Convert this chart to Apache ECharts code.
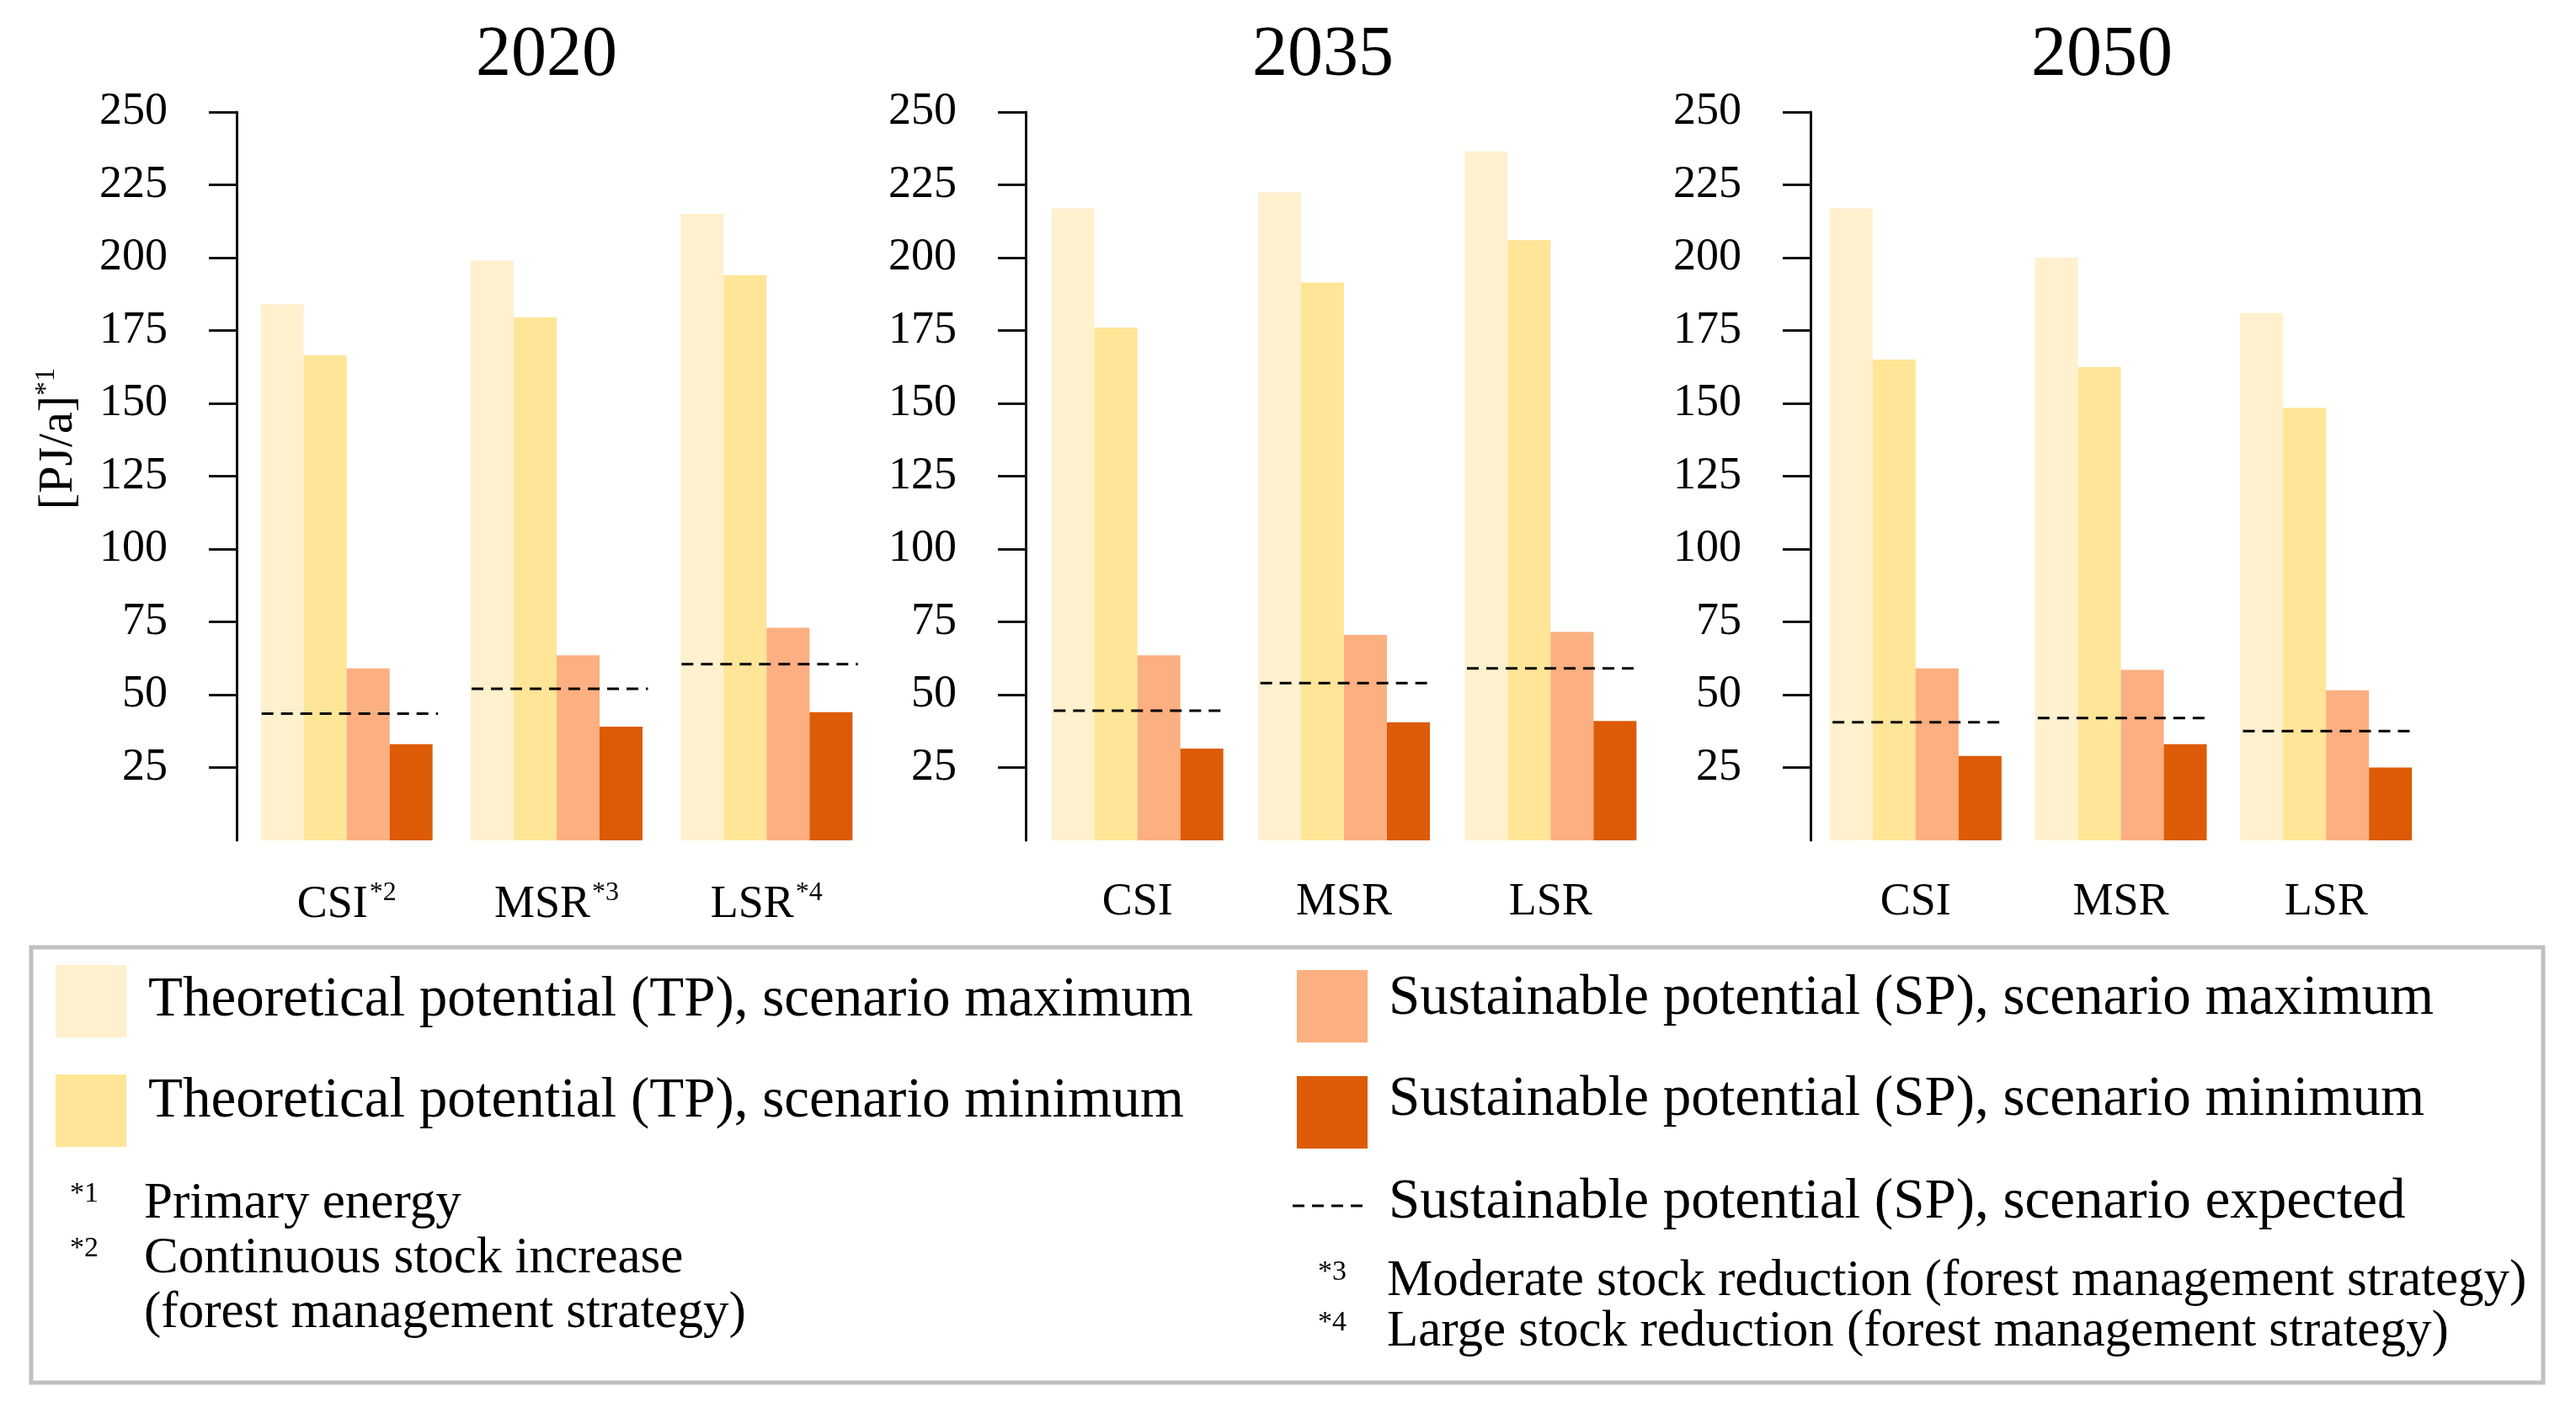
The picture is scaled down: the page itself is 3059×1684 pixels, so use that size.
<!DOCTYPE html>
<html><head><meta charset="utf-8">
<script src="https://cdn.jsdelivr.net/npm/echarts@6/dist/echarts.min.js"></script>
<style>html,body{margin:0;padding:0;background:#fff}#c{width:3059px;height:1684px}</style>
</head><body><div id="c"></div>
<script>
// ---------- data ----------
const years = ['2020', '2035', '2050'];
const categories = ['CSI', 'MSR', 'LSR'];
const marks2020 = ['*2', '*3', '*4'];
const seriesNames = [
  'Theoretical potential (TP), scenario maximum',
  'Theoretical potential (TP), scenario minimum',
  'Sustainable potential (SP), scenario maximum',
  'Sustainable potential (SP), scenario minimum'
];
const expectedName = 'Sustainable potential (SP), scenario expected';
// per year: [CSI, MSR, LSR]
const tpMax = [[184, 199, 215], [217, 222.5, 236.5], [217, 200, 181]];
const tpMin = [[166.5, 179.5, 194], [176, 191.5, 206], [165, 162.5, 148.5]];
const spMax = [[59, 63.5, 73], [63.5, 70.5, 71.5], [59, 58.5, 51.5]];
const spMin = [[33, 39, 44], [31.5, 40.5, 41], [29, 33, 25]];
const spExp = [[43.5, 52, 60.5], [44.5, 54, 59], [40.5, 42, 37.5]];
const yTicks = [25, 50, 75, 100, 125, 150, 175, 200, 225, 250];
const footnotesLeft = [['*1', 'Primary energy'], ['*2', 'Continuous stock increase'], ['', '(forest management strategy)']];
const footnotesRight = [['*3', 'Moderate stock reduction (forest management strategy)'], ['*4', 'Large stock reduction (forest management strategy)']];

// ---------- style ----------
const FONT = 'Liberation Serif';
const colors = ['#FFF0CE', '#FFE597', '#FCAF80', '#DD5B06'];
const gridLeft = [287, 1228, 2153];
const gridWidth = [748, 736, 731];
const axisOffset = [6, 10, 3];
const titleX = [649, 1571, 2496];

const chart = echarts.init(document.getElementById('c'), null, {renderer: 'canvas'});

const grids = [], xAxes = [], yAxes = [], series = [];
const valuesBySeries = [tpMax, tpMin, spMax, spMin];

for (let i = 0; i < 3; i++) {
  grids.push({left: gridLeft[i], width: gridWidth[i], top: 133, height: 865, containLabel: false});
  xAxes.push({
    type: 'category', gridIndex: i, data: categories,
    axisLine: {show: false}, axisTick: {show: false},
    axisLabel: {
      interval: 0, hideOverlap: false,
      margin: 47, fontFamily: FONT, fontSize: 54, color: '#000',
      formatter: i === 0 ? function (v, idx) { return '{a|' + v + '}{s|' + marks2020[idx] + '}'; } : '{value}',
      rich: {a: {fontFamily: FONT, fontSize: 54, color: '#000', lineHeight: 60},
             s: {fontFamily: FONT, fontSize: 32, color: '#000', verticalAlign: 'top', lineHeight: 60, padding: [0, 0, 0, 2]}}
    }
  });
  yAxes.push({
    type: 'value', gridIndex: i, min: 0, max: 250, interval: 25, offset: axisOffset[i],
    splitLine: {show: false},
    axisLine: {show: true, lineStyle: {color: '#111', width: 3}},
    axisTick: {show: true, length: 33, lineStyle: {color: '#111', width: 3}, customValues: yTicks},
    axisLabel: {margin: 82, fontFamily: FONT, fontSize: 54, color: '#000', customValues: yTicks,
      formatter: function (v) { return v === 0 ? '' : String(v); }}
  });
  for (let s = 0; s < 4; s++) {
    series.push({
      type: 'bar', name: seriesNames[s], xAxisIndex: i, yAxisIndex: i,
      data: valuesBySeries[s][i], barWidth: 51, barGap: '0%',
      itemStyle: {color: colors[s]}, silent: true, animation: false
    });
  }
  series.push({
    type: 'custom', name: expectedName, xAxisIndex: i, yAxisIndex: i, z: 10,
    data: spExp[i].map(function (v, k) { return [k, v]; }),
    encode: {x: 0, y: 1}, animation: false, silent: true,
    renderItem: function (params, api) {
      const pt = api.coord([api.value(0), api.value(1)]);
      const band = api.size([1, 0])[0];
      return {type: 'line',
        shape: {x1: pt[0] - 0.405 * band, y1: pt[1], x2: pt[0] + 0.435 * band, y2: pt[1]},
        style: {stroke: '#000', lineWidth: 3, lineDash: [14, 9]}};
    }
  });
}

const graphics = [];
// year titles
for (let i = 0; i < 3; i++) {
  graphics.push({type: 'text', x: titleX[i], y: 67,
    style: {text: years[i], fontFamily: FONT, fontSize: 84, fill: '#000', align: 'center', verticalAlign: 'middle'}});
}
// y axis name
graphics.push({type: 'text', x: 70, y: 521, rotation: Math.PI / 2,
  style: {text: '{a|[PJ/a]}{s|*1}', align: 'center', verticalAlign: 'middle',
    rich: {a: {fontFamily: FONT, fontSize: 58, fill: '#000', lineHeight: 62},
           s: {fontFamily: FONT, fontSize: 33, fill: '#000', verticalAlign: 'top', lineHeight: 62}}}});
// legend box
graphics.push({type: 'rect', shape: {x: 37, y: 1125, width: 2983, height: 517},
  style: {fill: 'none', stroke: '#C0C0C0', lineWidth: 5}});
// swatches
const sw = [[66, 1146], [66, 1276], [1540, 1152], [1540, 1278]];
const txt = [[176, 1188], [176, 1308], [1649, 1186], [1649, 1306]];
for (let s = 0; s < 4; s++) {
  graphics.push({type: 'rect', shape: {x: sw[s][0], y: sw[s][1], width: 84, height: 86}, style: {fill: colors[s]}});
  graphics.push({type: 'text', x: txt[s][0], y: txt[s][1],
    style: {text: seriesNames[s], fontFamily: FONT, fontSize: 67, fill: '#000', align: 'left', verticalAlign: 'middle'}});
}
// expected dashed sample
graphics.push({type: 'line', shape: {x1: 1535, y1: 1432, x2: 1620, y2: 1432},
  style: {stroke: '#000', lineWidth: 3, lineDash: [14, 9]}});
graphics.push({type: 'text', x: 1649, y: 1428,
  style: {text: expectedName, fontFamily: FONT, fontSize: 67, fill: '#000', align: 'left', verticalAlign: 'middle'}});
// footnotes
const fnLeftY = [1430, 1495, 1560];
for (let k = 0; k < footnotesLeft.length; k++) {
  if (footnotesLeft[k][0]) graphics.push({type: 'text', x: 83, y: fnLeftY[k] - 12,
    style: {text: footnotesLeft[k][0], fontFamily: FONT, fontSize: 34, fill: '#000', align: 'left', verticalAlign: 'middle'}});
  graphics.push({type: 'text', x: 171, y: fnLeftY[k],
    style: {text: footnotesLeft[k][1], fontFamily: FONT, fontSize: 61, fill: '#000', align: 'left', verticalAlign: 'middle'}});
}
const fnRightY = [1522, 1582];
for (let k = 0; k < footnotesRight.length; k++) {
  graphics.push({type: 'text', x: 1565, y: fnRightY[k] - 11,
    style: {text: footnotesRight[k][0], fontFamily: FONT, fontSize: 34, fill: '#000', align: 'left', verticalAlign: 'middle'}});
  graphics.push({type: 'text', x: 1647, y: fnRightY[k],
    style: {text: footnotesRight[k][1], fontFamily: FONT, fontSize: 61, fill: '#000', align: 'left', verticalAlign: 'middle'}});
}

chart.setOption({
  backgroundColor: '#fff',
  animation: false,
  grid: grids, xAxis: xAxes, yAxis: yAxes, series: series,
  graphic: {elements: graphics}
});
</script></body></html>
